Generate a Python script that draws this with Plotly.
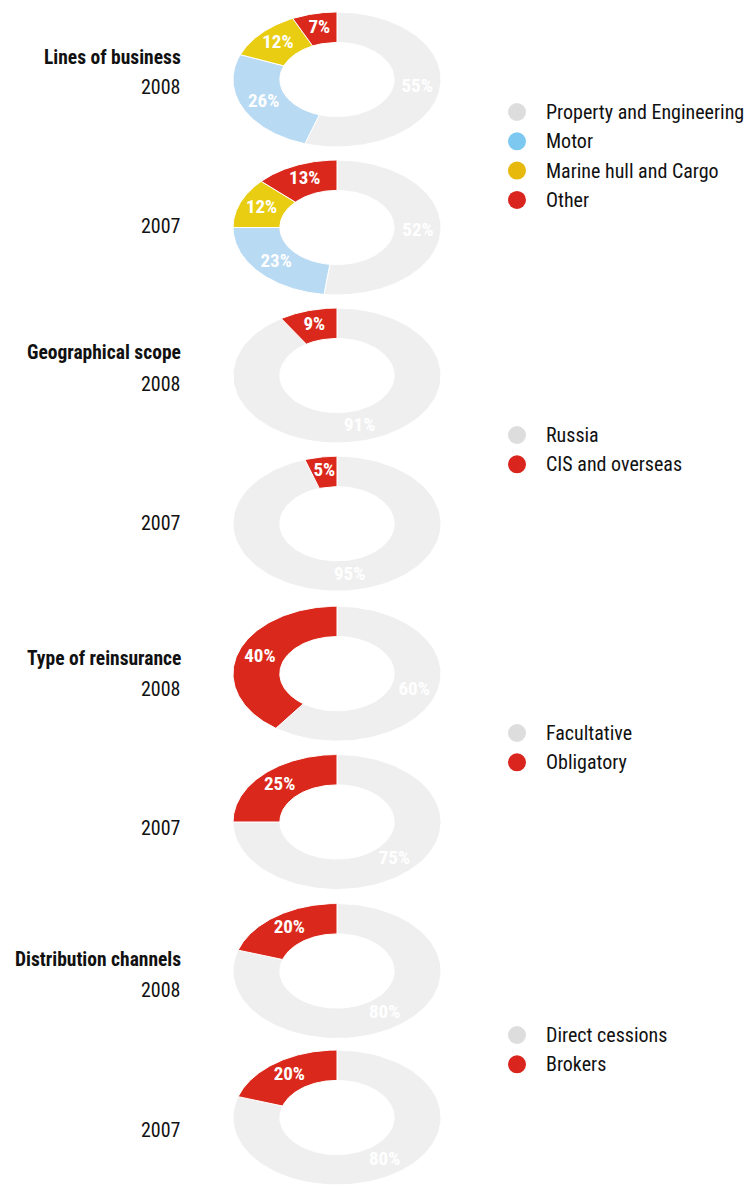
import numpy as np
import plotly.graph_objects as go

# ---------------- data ----------------
lines_labels = ["Property and Engineering", "Motor", "Marine hull and Cargo", "Other"]
lines_2008 = [55, 26, 12, 7]
lines_2007 = [52, 23, 12, 13]

geo_labels = ["Russia", "CIS and overseas"]
geo_2008 = [91, 9]
geo_2007 = [95, 5]

type_labels = ["Facultative", "Obligatory"]
type_2008 = [60, 40]
type_2007 = [75, 25]

dist_labels = ["Direct cessions", "Brokers"]
dist_2008 = [80, 20]
dist_2007 = [80, 20]

section_titles = ["Lines of business", "Geographical scope", "Type of reinsurance", "Distribution channels"]
years = ["2008", "2007"]

# ---------------- styles / layout ----------------
W, H = 750, 1185
slice4 = ["#efefef", "#b8daf3", "#e9cd12", "#da291c"]
legend4 = ["#dddddd", "#7cc8f1", "#e6b90c", "#d9251d"]
slice2 = ["#efefef", "#da291c"]
legend2 = ["#dddddd", "#d9251d"]

FONT = "Roboto Condensed, Liberation Sans Narrow, Roboto, sans-serif"

sections = [
    (lines_labels, [lines_2008, lines_2007], slice4, legend4),
    (geo_labels, [geo_2008, geo_2007], slice2, legend2),
    (type_labels, [type_2008, type_2007], slice2, legend2),
    (dist_labels, [dist_2008, dist_2007], slice2, legend2),
]

centers_y = [79.5, 227.5, 375.5, 523.7, 673.7, 822, 971, 1117.5]
title_y = [57, 353, 658, 959]
year_y = [[87, 226], [384, 523], [689, 828], [990, 1130]]
legend_top_y = [112, 435, 733, 1035]
LEG_STEP = 29.3
cx, rx, ry = 337, 104, 67.5
HOLE = 0.55
LABEL_R = 0.78

fig = go.Figure()
annotations = []
shapes = []

def px_x(x):
    return x / W

def px_y(y):
    return min(1.0, max(0.0, 1 - y / H))

k = 0
for s, (labels, series, scol, lcol) in enumerate(sections):
    for yi, vals in enumerate(series):
        k += 1
        xa = "x" if k == 1 else f"x{k}"
        ya = "y" if k == 1 else f"y{k}"
        cy = centers_y[k - 1]
        total = float(sum(vals))
        cum = 0.0
        for i, v in enumerate(vals):
            a0 = cum / total * 2 * np.pi
            a1 = (cum + v) / total * 2 * np.pi
            cum += v
            t = np.linspace(a0, a1, 120)
            xs = np.concatenate([np.sin(t), HOLE * np.sin(t[::-1])])
            ys = np.concatenate([np.cos(t), HOLE * np.cos(t[::-1])])
            fig.add_trace(go.Scatter(
                x=np.append(xs, xs[0]), y=np.append(ys, ys[0]),
                mode="lines", fill="toself", fillcolor=scol[i],
                line=dict(color="white", width=1),
                hoverinfo="text", text=f"{labels[i]}: {v}%",
                showlegend=False, xaxis=xa, yaxis=ya))
            am = (a0 + a1) / 2
            fig.add_trace(go.Scatter(
                x=[LABEL_R * np.sin(am)], y=[LABEL_R * np.cos(am)],
                mode="text", text=[f"{v}%"],
                textfont=dict(family=FONT, size=19, color="white", weight="bold"),
                hoverinfo="skip", showlegend=False, xaxis=xa, yaxis=ya))
        dom_x = [px_x(cx - rx), px_x(cx + rx)]
        dom_y = [px_y(cy + ry), px_y(cy - ry)]
        axis_common = dict(visible=False, range=[-1, 1], fixedrange=True)
        fig.update_layout(**{
            ("xaxis" if k == 1 else f"xaxis{k}"): dict(domain=dom_x, anchor=ya, **axis_common),
            ("yaxis" if k == 1 else f"yaxis{k}"): dict(domain=dom_y, anchor=xa, **axis_common),
        })
        annotations.append(dict(
            x=px_x(183), y=px_y(year_y[s][yi]), xref="paper", yref="paper",
            xanchor="right", yanchor="middle", showarrow=False,
            text=years[yi], font=dict(family=FONT, size=20, color="#111111")))
    annotations.append(dict(
        x=px_x(183), y=px_y(title_y[s]), xref="paper", yref="paper",
        xanchor="right", yanchor="middle", showarrow=False,
        text=f"<b>{section_titles[s]}</b>",
        font=dict(family=FONT, size=19.5, color="#111111")))
    # legend block
    for i, lab in enumerate(labels):
        ly = legend_top_y[s] + i * LEG_STEP
        shapes.append(dict(type="circle", xref="paper", yref="paper",
                           x0=px_x(508), x1=px_x(526), y0=px_y(ly + 9), y1=px_y(ly - 9),
                           fillcolor=lcol[i], line=dict(width=0)))
        annotations.append(dict(
            x=px_x(544), y=px_y(ly), xref="paper", yref="paper",
            xanchor="left", yanchor="middle", showarrow=False,
            text=lab, font=dict(family=FONT, size=20, color="#111111")))

fig.update_layout(
    width=W, height=H,
    margin=dict(l=0, r=0, t=0, b=0),
    paper_bgcolor="white", plot_bgcolor="white",
    annotations=annotations, shapes=shapes,
    showlegend=False,
)

fig.write_html("out.html", config={"displayModeBar": False},
               post_script="document.body.style.margin='0';")
